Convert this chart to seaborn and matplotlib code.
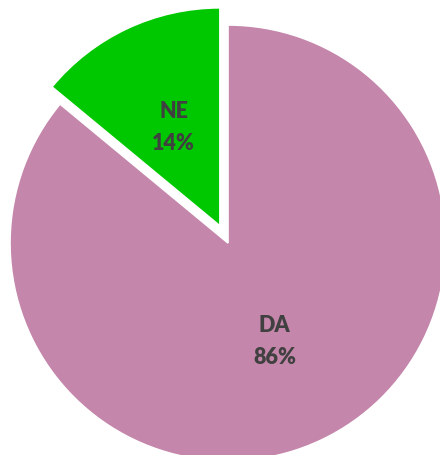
import matplotlib
matplotlib.use("Agg")
import matplotlib.pyplot as plt
import seaborn as sns

categories = ["DA", "NE"]
values = [86, 14]
colors = ["#C486AA", "#00C800"]
explode = [0, 0.087]

sns.set_theme(style="white")
plt.rcParams['font.family'] = ['Lato', 'DejaVu Sans']

fig = plt.figure(figsize=(4.40, 4.55), dpi=100)
ax = fig.add_axes([0, 0, 1, 1])

labels = [f"{c}\n{v}%" for c, v in zip(categories, values)]
wedges, texts = ax.pie(values, colors=colors, explode=explode, startangle=90,
                       counterclock=False, labels=labels, labeldistance=0.5,
                       radius=1.0,
                       wedgeprops=dict(edgecolor="white", linewidth=1.2),
                       textprops=dict(color="#404040", fontsize=15.5,
                                      fontweight="heavy", ha="center",
                                      va="center", linespacing=1.65))

s = 218.0
ax.set_xlim(-228 / s, (440 - 228) / s)
ax.set_ylim(-(455 - 243) / s, 243 / s)
ax.set_aspect("equal")
ax.axis("off")

fig.savefig("out.png", dpi=100)
